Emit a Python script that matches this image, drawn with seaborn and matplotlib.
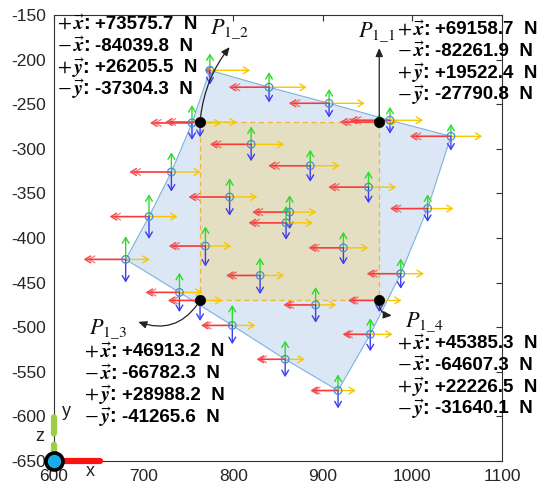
import numpy as np
import pandas as pd
import matplotlib
matplotlib.use("Agg")
import matplotlib.pyplot as plt
import matplotlib.patches as mpatches
import seaborn as sns

# ---------------- data ----------------
# mesh nodes (first 16 = boundary in polygon order, rest interior)
node_x = [774, 840, 907, 975, 1043, 1017, 987, 953, 917, 858, 799, 740, 680, 706, 731, 754,
          820, 796, 769, 830, 863, 859, 886, 951, 923, 892]
node_y = [-212, -231, -249, -268, -286, -367, -440, -508, -571, -536, -498, -461, -424, -376, -326, -271,
          -295, -354, -409, -442, -371, -383, -319, -343, -411, -475]
n_boundary = 16
# force-component arrow lengths per node (data units)
neg_x_len = [6, 45, 45, 45, 46, 42, 38, 31, 31, 32, 35, 38, 47, 44, 47, 47,
             46, 46, 41, 38, 42, 42, 47, 45, 39, 36]
pos_x_len = [45, 42, 40, 37, 35, 29, 26, 25, 20, 22, 26, 26, 27, 32, 33, 33,
             37, 31, 29, 27, 30, 30, 33, 31, 28, 23]
pos_y_len = [19, 17, 16, 15, 14, 16, 17, 18, 18, 21, 23, 22, 26, 25, 22, 20,
             20, 21, 22, 20, 19, 19, 18, 18, 18, 20]
neg_y_len = [16, 17, 16, 15, 16, 15, 17, 19, 20, 20, 21, 22, 26, 25, 22, 19,
             19, 21, 23, 21, 19, 19, 18, 18, 19, 20]

# characteristic points P1_1 .. P1_4
p_names = ["1\\_1", "1\\_2", "1\\_3", "1\\_4"]
p_x = [963, 763, 763, 963]
p_y = [-270, -270, -470, -470]
p_neg_x = [44, 39, 36, 35]
p_pos_x = [20, 41, 25, 25]
p_pos_y = [9, 0, 0, 0]
p_neg_y = [6, 17, 23, 13]

# force summaries
comp_labels = [r"$+\,\vec{\boldsymbol{x}}$:", r"$-\,\vec{\boldsymbol{x}}$:",
               r"$+\,\vec{\boldsymbol{y}}$:", r"$-\,\vec{\boldsymbol{y}}$:"]
p1_1_vals = ["+69158.7", "-82261.9", "+19522.4", "-27790.8"]
p1_2_vals = ["+73575.7", "-84039.8", "+26205.5", "-37304.3"]
p1_3_vals = ["+46913.2", "-66782.3", "+28988.2", "-41265.6"]
p1_4_vals = ["+45385.3", "-64607.3", "+22226.5", "-31640.1"]

x_ticks = [600, 700, 800, 900, 1000, 1100]
y_ticks = [-650, -600, -550, -500, -450, -400, -350, -300, -250, -200, -150]

# ---------------- style ----------------
sns.set_theme(style="white")
plt.rcParams["font.family"] = ["Liberation Sans", "DejaVu Sans"]
plt.rcParams["mathtext.fontset"] = "stix"

W, H = 540, 490
fig = plt.figure(figsize=(W / 100, H / 100), dpi=100)
ax = fig.add_axes([54 / W, 1 - 461 / H, 448 / W, 446 / H])
ax.set_xlim(600, 1100)
ax.set_ylim(-650, -150)

# region polygon
ax.fill(node_x[:n_boundary], node_y[:n_boundary], facecolor="#dbe7f4",
        edgecolor="#7eb0e0", lw=0.8, zorder=1)
# inner rectangle
ax.add_patch(mpatches.Rectangle((min(p_x), min(p_y)), max(p_x) - min(p_x), max(p_y) - min(p_y),
                                facecolor="#e4dec2", edgecolor="#f2b23c", ls=(0, (4, 3)),
                                lw=0.9, zorder=2))

RED, RED2, YEL, GRN, BLU = "#f05050", "#ff2a2a", "#f7c800", "#2bdc2b", "#3d3df0"


def arrow(x, y, dx, dy, color, lw=1.0, alpha=1.0, z=3):
    if dx == 0 and dy == 0:
        return
    ax.annotate("", xy=(x + dx, y + dy), xytext=(x, y),
                arrowprops=dict(arrowstyle="->,head_length=0.45,head_width=0.27",
                                color=color, lw=lw, alpha=alpha, shrinkA=0, shrinkB=0,
                                mutation_scale=9),
                zorder=z, annotation_clip=False)


def force_arrows(x, y, nx, px, py, ny):
    arrow(x, y, -nx, 0, RED, lw=1.1)
    if nx > 10:
        arrow(x, y, -nx * 0.9, 0, RED2, alpha=0.6)
    arrow(x, y, px, 0, YEL)
    arrow(x, y, 0, py, GRN)
    arrow(x, y, 0, -ny, BLU)


for i in range(len(node_x)):
    force_arrows(node_x[i], node_y[i], neg_x_len[i], pos_x_len[i], pos_y_len[i], neg_y_len[i])
for i in range(len(p_x)):
    force_arrows(p_x[i], p_y[i], p_neg_x[i], p_pos_x[i], p_pos_y[i], p_neg_y[i])

nodes = pd.DataFrame({"x": node_x, "y": node_y})
sns.scatterplot(data=nodes, x="x", y="y", ax=ax, marker="o", s=30,
                facecolor="none", edgecolor="#4f8bc9", linewidth=0.9, zorder=5, legend=False)
pts = pd.DataFrame({"x": p_x, "y": p_y})
sns.scatterplot(data=pts, x="x", y="y", ax=ax, marker="o", s=55,
                color="black", edgecolor="black", linewidth=0.5, zorder=6, legend=False)

# P labels with leader arrows
label_pos = [(960, -168), (796, -165), (660, -501), (1013, -494)]
arrow_end = [(963, -187), (796, -186), (694, -494), (977, -487)]
rads = [0.0, -0.15, -0.4, 0.5]
for i in range(4):
    ax.annotate("", xy=arrow_end[i], xytext=(p_x[i], p_y[i]),
                arrowprops=dict(arrowstyle="-|>,head_length=0.5,head_width=0.22",
                                color="#222222", lw=0.9, shrinkA=4, shrinkB=0,
                                mutation_scale=10, connectionstyle=f"arc3,rad={rads[i]}"),
                zorder=7, annotation_clip=False)
    ax.text(label_pos[i][0], label_pos[i][1], r"$P_{\mathrm{" + p_names[i] + "}}$",
            fontsize=16, ha="center", va="center", color="#111111", zorder=8, clip_on=False)

# force summary text blocks (pixel position of first line centre)
blocks = [(p1_2_vals, 57, 24.5), (p1_1_vals, 397, 29.7), (p1_3_vals, 84, 352), (p1_4_vals, 397, 343.7)]
for vals, px0, py0 in blocks:
    for k in range(4):
        yy = 1 - (py0 + k * 21.7) / H
        fig.text(px0 / W, yy, comp_labels[k], fontsize=14.5, fontweight="bold",
                 ha="left", va="center", color="black", zorder=10)
        fig.text((px0 + 38) / W, yy, vals[k] + "  N", fontsize=13.5, fontweight="bold",
                 ha="left", va="center", color="black", zorder=10)

# coordinate-system glyph at origin
ax.plot([600, 651], [-650, -650], color="#ff1010", lw=4.5, solid_capstyle="round",
        clip_on=False, zorder=8)
ax.plot([600, 600], [-650, -596], color="#9ccc48", lw=4.5, ls=(0, (2.6, 1.8)),
        dash_capstyle="round", clip_on=False, zorder=8)
ax.scatter([600], [-650], s=150, color="#18ade6", edgecolor="black", linewidth=2.6,
           clip_on=False, zorder=9)
ax.text(640, -662, "x", fontsize=13, ha="center", va="center", color="#222222", clip_on=False)
ax.text(614, -594, "y", fontsize=13, ha="center", va="center", color="#222222", clip_on=False)
ax.text(584, -623, "z", fontsize=13, ha="center", va="center", color="#222222", clip_on=False)

ax.set_xticks(x_ticks)
ax.set_yticks(y_ticks)
ax.set_xticklabels([str(v) for v in x_ticks])
ax.set_yticklabels([str(v) for v in y_ticks])
ax.tick_params(direction="in", top=True, right=True, length=4, width=0.8,
               color="#333333", labelsize=12.5, labelcolor="#262626", pad=6)
ax.set_xlabel("")
ax.set_ylabel("")
for s in ax.spines.values():
    s.set_color("#333333")
    s.set_linewidth(0.8)
ax.set_facecolor("white")

fig.savefig("out.png", dpi=100)
